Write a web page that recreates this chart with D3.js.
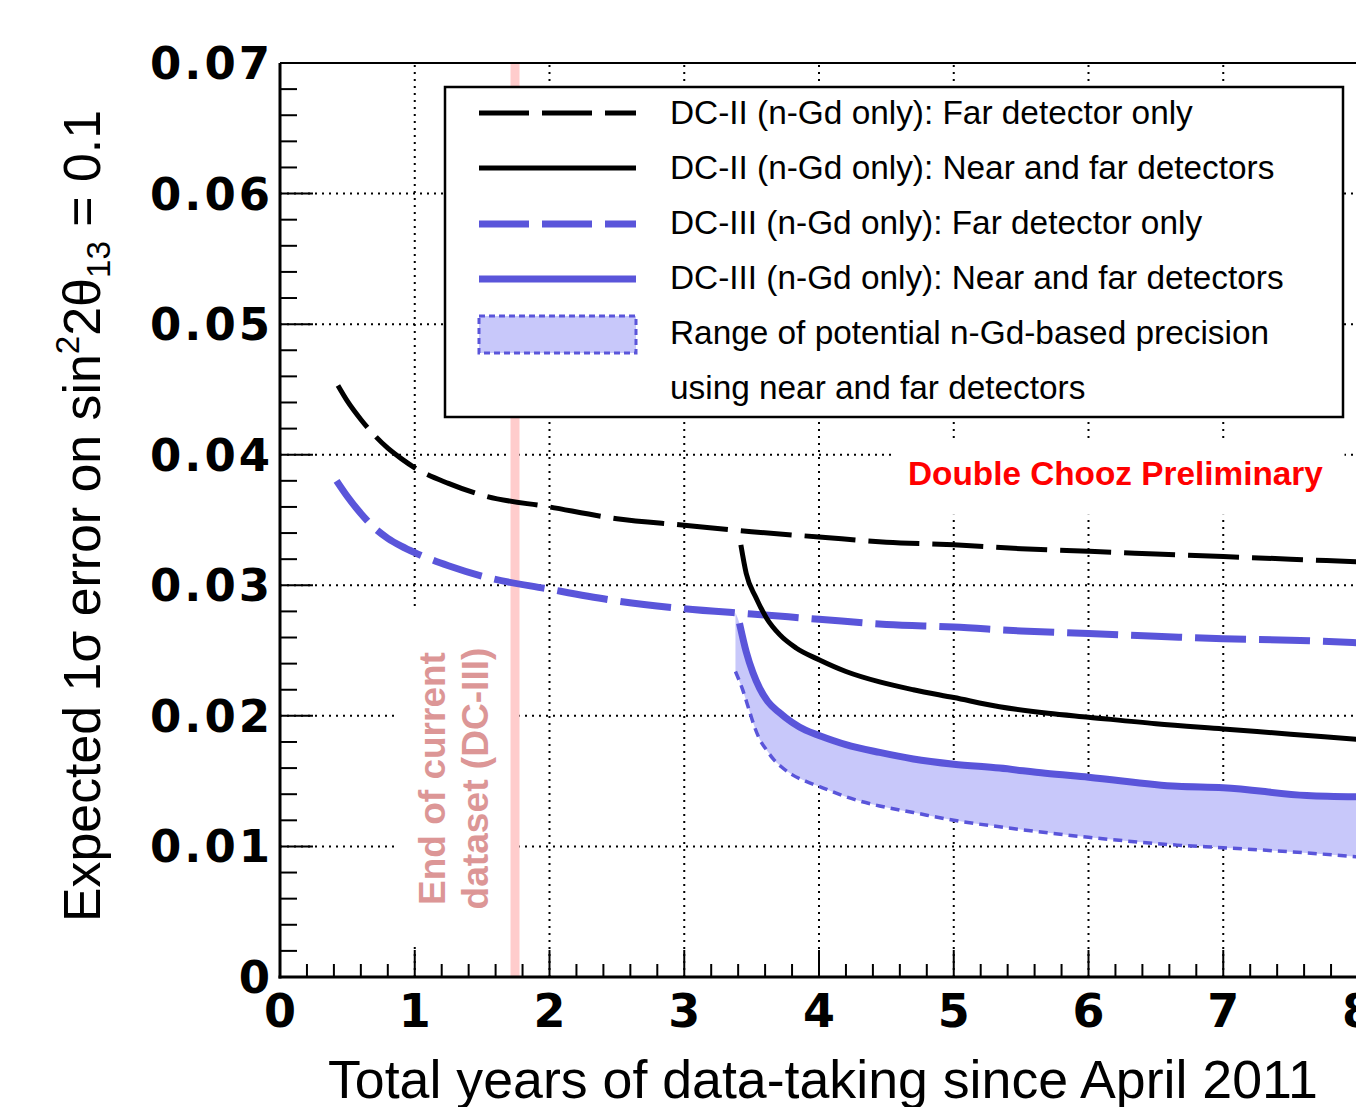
<!DOCTYPE html>
<html><head><meta charset="utf-8">
<script src="https://cdn.jsdelivr.net/npm/d3@7"></script>
<style>body{margin:0;background:#fff} svg{display:block}</style>
</head><body>
<svg id="c" width="1356" height="1107"></svg>
<script>
// ---- data ----
const dc2FarT = [0.43,0.5,0.6,0.7,0.8,0.9,1.0,1.25,1.5,2.0,2.5,3.0,3.5,4.0,4.5,5.0,5.5,6.0,6.5,7.0,7.5,8.0];
const dc2FarV = [0.0453,0.0441,0.0427,0.0415,0.0405,0.0397,0.0390,0.0378,0.0369,0.0360,0.0351,0.0346,0.0341,0.0337,0.0333,0.0331,0.0328,0.0326,0.0324,0.0322,0.0320,0.0318];

const dc3FarT = [0.42,0.5,0.6,0.7,0.8,0.9,1.0,1.25,1.5,2.0,2.5,3.0,3.5,4.0,4.5,5.0,5.5,6.0,6.5,7.0,7.5,8.0];
const dc3FarV = [0.0380,0.0368,0.0355,0.0344,0.0336,0.0330,0.0325,0.0315,0.0307,0.0297,0.0288,0.0282,0.0278,0.0274,0.0270,0.0268,0.0265,0.0263,0.0261,0.0259,0.0258,0.0256];

const dc2NearT = [3.42,3.46,3.53,3.61,3.71,3.83,4.0,4.2,4.45,4.7,5.0,5.34,5.7,6.0,6.5,7.0,7.5,8.0];
const dc2NearV = [0.0331,0.0309,0.0291,0.0275,0.0262,0.0252,0.0243,0.0234,0.0226,0.0220,0.0214,0.0207,0.0202,0.0199,0.0194,0.0190,0.0186,0.0182];

const dc3NearT = [3.41,3.46,3.51,3.56,3.62,3.70,3.80,3.9,4.0,4.2,4.45,4.7,5.0,5.34,5.68,6.0,6.66,7.0,7.62,8.0];
const dc3NearV = [0.0271,0.0249,0.0233,0.0221,0.0211,0.0203,0.0195,0.0189,0.0185,0.0178,0.0172,0.0167,0.0163,0.0160,0.0156,0.0153,0.0146,0.0145,0.0139,0.0138];

const bandUpT = [3.38,3.41,3.46,3.51,3.56,3.62,3.70,3.80,3.9,4.0,4.2,4.45,4.7,5.0,5.34,5.68,6.0,6.66,7.0,7.62,8.0];
const bandUpV = [0.0279,0.0271,0.0249,0.0233,0.0221,0.0211,0.0203,0.0195,0.0189,0.0185,0.0178,0.0172,0.0167,0.0163,0.0160,0.0156,0.0153,0.0146,0.0145,0.0139,0.0138];
const bandLoT = [3.38,3.43,3.48,3.52,3.56,3.61,3.66,3.72,3.80,3.9,4.0,4.2,4.45,4.7,5.0,5.34,6.0,6.66,7.0,7.62,8.0];
const bandLoV = [0.0234,0.0221,0.0205,0.0192,0.0182,0.0174,0.0167,0.0161,0.0155,0.0150,0.0146,0.0138,0.0131,0.0126,0.0120,0.0115,0.0107,0.0101,0.0099,0.0095,0.0092];

const endOfDataset = 1.744;

const xTicks = [0,1,2,3,4,5,6,7,8];
const yTicks = [0,0.01,0.02,0.03,0.04,0.05,0.06,0.07];
const yTickLabels = ["0","0.01","0.02","0.03","0.04","0.05","0.06","0.07"];

const legendLabels = [
  "DC-II (n-Gd only): Far detector only",
  "DC-II (n-Gd only): Near and far detectors",
  "DC-III (n-Gd only): Far detector only",
  "DC-III (n-Gd only): Near and far detectors",
  "Range of potential n-Gd-based precision",
  "using near and far detectors"
];

// ---- setup ----
const BLUE = "#5a55da", FILL = "#c8c8fa";
const svg = d3.select("#c");
const x = d3.scaleLinear().domain([0,8]).range([280,1358]);
const y = d3.scaleLinear().domain([0,0.07]).range([977,63]);
const SANS = "'Liberation Sans', Arial, Helvetica, sans-serif";
const BOLDF = "'DejaVu Sans', Verdana, sans-serif";

function fit(sel, w){
  const fs = parseFloat(sel.attr("font-size"));
  const len = sel.node().getComputedTextLength();
  sel.attr("font-size", fs*w/len);
  return fs*w/len;
}

// ---- grid ----
const grid = svg.append("g").attr("stroke","#000").attr("stroke-width",2).attr("stroke-dasharray","2,5");
xTicks.filter(d=>d>0&&d<8).forEach(d=>{
  grid.append("line").attr("x1",x(d)).attr("x2",x(d)).attr("y1",y(0)).attr("y2",y(0.07));
});
yTicks.filter(d=>d>0&&d<0.07).forEach(d=>{
  grid.append("line").attr("x1",x(0)).attr("x2",x(8)).attr("y1",y(d)).attr("y2",y(d));
});

// white boxes behind annotations
svg.append("rect").attr("x",x(0.87)).attr("y",y(0.0283)).attr("width",x(1.71)-x(0.87)).attr("height",y(0.0023)-y(0.0283)).attr("fill","#fff");
svg.append("rect").attr("x",x(4.55)).attr("y",y(0.0409)).attr("width",x(7.9)-x(4.55)).attr("height",y(0.0354)-y(0.0409)).attr("fill","#fff");

// pink vertical line
svg.append("line").attr("x1",x(endOfDataset)).attr("x2",x(endOfDataset)).attr("y1",y(0)).attr("y2",y(0.07))
  .attr("stroke","#ffcccc").attr("stroke-width",9);

// pink annotation
const pinkC = y(0.0152);
const p1 = svg.append("text").attr("transform",`translate(445,${pinkC}) rotate(-90)`).attr("text-anchor","middle")
  .attr("font-family",SANS).attr("font-weight","bold").attr("font-size",36).attr("fill","#dc9696").text("End of current");
fit(p1,253);
const p2 = svg.append("text").attr("transform",`translate(488,${pinkC}) rotate(-90)`).attr("text-anchor","middle")
  .attr("font-family",SANS).attr("font-weight","bold").attr("font-size",36).attr("fill","#dc9696").text("dataset (DC-III)");
fit(p2,262);

// Double Chooz Preliminary
const dcp = svg.append("text").attr("x",908).attr("y",485).attr("font-family",SANS).attr("font-weight","bold")
  .attr("font-size",32).attr("fill","#ff0000").text("Double Chooz Preliminary");
fit(dcp,415);

// ---- curves ----
const line = d3.line().x(d=>x(d[0])).y(d=>y(d[1])).curve(d3.curveMonotoneX);
const zip = (a,b)=>a.map((t,i)=>[t,b[i]]);

// band
const up = zip(bandUpT,bandUpV), lo = zip(bandLoT,bandLoV);
const bandPath = line(up) + "L" + line(lo.slice().reverse()).slice(1) + "Z";
svg.append("path").attr("d",bandPath).attr("fill",FILL).attr("stroke","none");
svg.append("path").attr("d",line(lo)).attr("fill","none").attr("stroke",BLUE).attr("stroke-width",3.5).attr("stroke-dasharray","9,6");

svg.append("path").attr("d",line(zip(dc2FarT,dc2FarV))).attr("fill","none").attr("stroke","#000").attr("stroke-width",5).attr("stroke-dasharray","51,13");
svg.append("path").attr("d",line(zip(dc3FarT,dc3FarV))).attr("fill","none").attr("stroke",BLUE).attr("stroke-width",7).attr("stroke-dasharray","51,13");
svg.append("path").attr("d",line(zip(dc2NearT,dc2NearV))).attr("fill","none").attr("stroke","#000").attr("stroke-width",5);
svg.append("path").attr("d",line(zip(dc3NearT,dc3NearV))).attr("fill","none").attr("stroke",BLUE).attr("stroke-width",7);

// ---- legend ----
const lg = svg.append("g");
lg.append("rect").attr("x",445).attr("y",87).attr("width",898).attr("height",330).attr("fill","#fff").attr("stroke","#000").attr("stroke-width",2.5);
const sampleY = [113,168,224,279];
const sampleStyle = [
  {c:"#000",w:5,d:"50,13"},{c:"#000",w:5,d:null},{c:BLUE,w:7,d:"50,13"},{c:BLUE,w:7,d:null}
];
sampleY.forEach((sy,i)=>{
  const s = sampleStyle[i];
  const l = lg.append("line").attr("x1",479).attr("x2",636).attr("y1",sy).attr("y2",sy).attr("stroke",s.c).attr("stroke-width",s.w);
  if(s.d) l.attr("stroke-dasharray",s.d);
});
lg.append("rect").attr("x",479).attr("y",316).attr("width",157).attr("height",37).attr("fill",FILL).attr("stroke",BLUE).attr("stroke-width",3).attr("stroke-dasharray","6,4");
const lgBase = [124,179,234,289,344,399];
const lt = legendLabels.map((t,i)=>lg.append("text").attr("x",670).attr("y",lgBase[i]).attr("font-family",SANS).attr("font-size",30).attr("fill","#000").text(t));
const lfs = fit(lt[0],523);
lt.forEach(t=>t.attr("font-size",lfs));

// ---- axes ----
const ax = svg.append("g").attr("stroke","#000");
ax.append("line").attr("x1",x(0)).attr("x2",x(0)).attr("y1",y(0)+1.5).attr("y2",y(0.07)).attr("stroke-width",3);
ax.append("line").attr("x1",x(0)-1.5).attr("x2",x(8)).attr("y1",y(0)).attr("y2",y(0)).attr("stroke-width",3);
ax.append("line").attr("x1",x(0)).attr("x2",x(8)).attr("y1",y(0.07)).attr("y2",y(0.07)).attr("stroke-width",2);
for(let i=0;i<=40;i++){
  const v = i*0.2, major = i%5===0;
  ax.append("line").attr("x1",x(v)).attr("x2",x(v)).attr("y1",y(0)).attr("y2",y(0)-(major?27:13)).attr("stroke-width",2);
}
for(let i=0;i<=35;i++){
  const v = i*0.002, major = i%5===0;
  ax.append("line").attr("x1",x(0)).attr("x2",x(0)+(major?33:17)).attr("y1",y(v)).attr("y2",y(v)).attr("stroke-width",2);
}
xTicks.forEach(d=>{
  svg.append("text").attr("x",x(d)).attr("y",1027).attr("text-anchor","middle").attr("font-family",BOLDF).attr("font-weight","bold")
    .attr("font-size",46).text(String(d));
});
yTicks.forEach((d,i)=>{
  const t = svg.append("text").attr("x",270).attr("y",y(d)+16).attr("text-anchor","end").attr("font-family",BOLDF).attr("font-weight","bold")
    .attr("font-size",45).text(yTickLabels[i]);
  if(yTickLabels[i].length>1) t.attr("textLength",120).attr("lengthAdjust","spacing");
});

// axis titles
const xt = svg.append("text").attr("x",328).attr("y",1098).attr("font-family",SANS).attr("font-size",48).text("Total years of data-taking since April 2011");
fit(xt,990);

function yTitle(fs){
  const g = svg.select("#ytitle").empty() ? svg.append("text").attr("id","ytitle") : svg.select("#ytitle");
  g.selectAll("*").remove();
  g.attr("transform","translate(100,922) rotate(-90)").attr("font-family",SANS).attr("font-size",fs);
  const s = fs/50;
  g.append("tspan").text("Expected 1σ error on sin");
  g.append("tspan").attr("dy",-20*s).attr("font-size",32*s).text("2");
  g.append("tspan").attr("dy",20*s).text("2θ");
  g.append("tspan").attr("dy",10*s).attr("font-size",32*s).text("13");
  g.append("tspan").attr("dy",-10*s).text(" = 0.1");
  return g;
}
let yg = yTitle(50);
const ylen = yg.node().getComputedTextLength();
yTitle(50*812/ylen);
</script>
</body></html>
